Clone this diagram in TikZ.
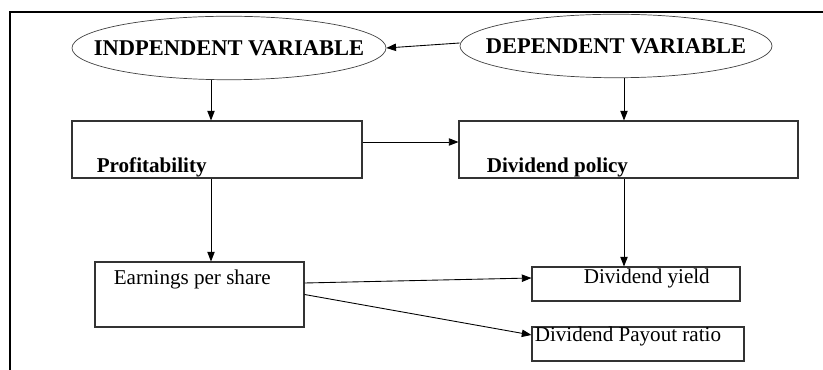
\documentclass[tikz,border=0pt]{standalone}
\usepackage{fontspec}
\setmainfont{Liberation Serif}
\usetikzlibrary{arrows.meta,shapes.geometric,positioning,calc}

\begin{document}
\begin{tikzpicture}[
    var/.style={draw=black!75, ellipse, minimum width=6.28cm, minimum height=1.27cm, inner xsep=-2cm, inner ysep=0pt, font=\fontsize{12.8}{15}\selectfont\bfseries},
    box/.style={draw=black!80, line width=0.6pt, inner sep=0pt},
    txt/.style={anchor=base west, inner sep=0pt, font=\fontsize{12}{14}\selectfont},
    arr/.style={-{Triangle[length=5.5pt,width=4.2pt]}, line width=0.5pt}
]
\useasboundingbox (0,0) rectangle (16.46,-7.40);
% outer frame (top and left only)
\draw[line width=1.2pt] (16.46,-0.24) -- (0.20,-0.24) -- (0.20,-7.40);

% variables
\node[var] (indep) at (4.58,-0.96) {INDPENDENT VARIABLE};
\node[var, minimum width=6.24cm] (dep) at (12.32,-0.92) {DEPENDENT VARIABLE};

% boxes
\node[box, minimum width=5.80cm, minimum height=1.14cm] (prof) at (4.34,-2.99) {};
\node[box, minimum width=6.78cm, minimum height=1.14cm] (dp) at (12.57,-2.99) {};
\node[box, minimum width=4.18cm, minimum height=1.30cm] (eps) at (3.99,-5.89) {};
\node[box, minimum width=4.16cm, minimum height=0.68cm] (yield) at (12.72,-5.68) {};
\node[box, minimum width=4.24cm, minimum height=0.68cm] (payout) at (12.76,-6.88) {};

% box texts
\node[txt, font=\fontsize{12}{14}\selectfont\bfseries] (proftxt) at ([shift={(0.50,0.12)}]prof.south west) {Profitability};
\node[txt, font=\fontsize{12}{14}\selectfont\bfseries] (dptxt) at ([shift={(0.56,0.12)}]dp.south west) {Dividend policy};
\node[txt] (epstxt) at ([shift={(0.38,-0.46)}]eps.north west) {Earnings per share};
\node[txt] (yieldtxt) at ([shift={(1.04,-0.34)}]yield.north west) {Dividend yield};
\node[txt] (payouttxt) at ([shift={(0.06,-0.30)}]payout.north west) {Dividend Payout ratio};

% arrow columns
\coordinate (colL) at (4.22,0);
\coordinate (colR) at (12.48,0);

\draw[arr] ([yshift=0.06cm]dep.west) -- (indep.east);
\draw[arr] (indep.south -| colL) -- (prof.north -| colL);
\draw[arr] (dep.south -| colR) -- (dp.north -| colR);
\draw[arr] ([yshift=0.15cm]prof.east) -- ([yshift=0.15cm]prof.east -| dp.west);
\draw[arr] (prof.south -| colL) -- (eps.north -| colL);
\draw[arr] (dp.south -| colR) -- (yield.north -| colR);
\draw[arr] ([yshift=0.23cm]eps.east) -- ([yshift=0.12cm]yield.west);
\draw[arr] (eps.east) -- ([yshift=0.18cm]payout.west);
\end{tikzpicture}
\end{document}
